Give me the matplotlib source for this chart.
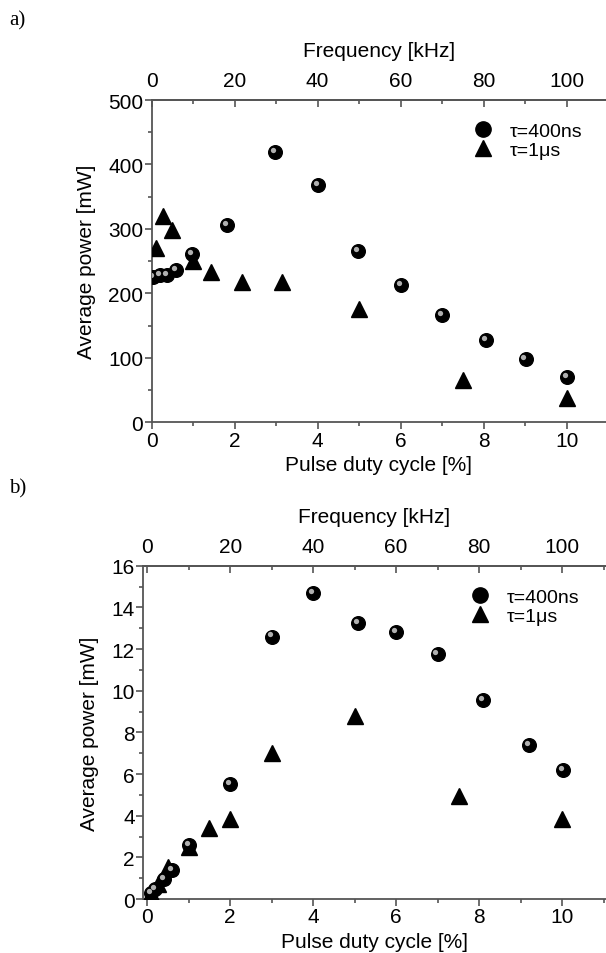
#!/usr/bin/env python3
"""
Average power vs pulse duty cycle, two panels
"""
import matplotlib
matplotlib.use("Agg")
import matplotlib.pyplot as plt
from matplotlib.lines import Line2D
from matplotlib.ticker import MultipleLocator
from matplotlib.transforms import offset_copy

plt.rcParams['font.family'] = ['Liberation Sans', 'DejaVu Sans']

# panel a) values
a_duty_400 = [0.04, 0.2, 0.38, 0.58, 0.98, 1.82, 2.97, 4.0, 4.98, 6.0, 6.99, 8.05, 9.01, 10.0]
a_power_400 = [226, 228, 228, 236, 261, 306, 420, 368, 266, 213, 167, 128, 98, 70]
a_duty_1us = [0.1, 0.28, 0.49, 1.0, 1.43, 2.18, 3.14, 4.99, 7.51, 10.0]
a_power_1us = [270, 320, 299, 250, 233, 217, 217, 176, 66, 38]

# panel b)
b_duty_400 = [0.1, 0.2, 0.4, 0.6, 1.0, 2.0, 3.0, 3.99, 5.09, 5.99, 7.0, 8.1, 9.2, 10.03]
b_power_400 = [0.3, 0.5, 0.95, 1.4, 2.6, 5.5, 12.6, 14.7, 13.25, 12.8, 11.75, 9.55, 7.4, 6.2]
b_duty_1us = [0.1, 0.25, 0.5, 1.0, 1.5, 2.0, 3.0, 5.0, 7.51, 10.0]
b_power_1us = [0.3, 0.7, 1.55, 2.5, 3.4, 3.85, 7.0, 8.8, 4.93, 3.84]

SPINE = '#555555'


def spheres(ax, x, y, fig):
    # black ball with a small light spot upper left
    ax.plot(x, y, 'o', color='black', markersize=9.8, zorder=3)
    hl = offset_copy(ax.transData, fig=fig, x=-1.5, y=1.5, units='points')
    ax.plot(x, y, 'o', color='#d0d0d0', markersize=3.8, markeredgewidth=0,
            alpha=0.85, transform=hl, zorder=4)


def style_panel(ax, fig, xlim, ylim, ymajor, yminor, legend_anchor):
    ax.set_xlim(*xlim)
    ax.set_ylim(*ylim)
    ax.xaxis.set_major_locator(MultipleLocator(2))
    ax.xaxis.set_minor_locator(MultipleLocator(1))
    ax.yaxis.set_major_locator(MultipleLocator(ymajor))
    ax.yaxis.set_minor_locator(MultipleLocator(yminor))
    ax.tick_params(which='major', direction='out', length=5, width=1.2,
                   color=SPINE, labelsize=15, pad=1)
    ax.tick_params(which='minor', direction='out', length=3, width=1.2, color=SPINE)
    for side in ['left', 'bottom', 'top']:
        ax.spines[side].set_color(SPINE)
        ax.spines[side].set_linewidth(1.3)
    ax.spines['right'].set_visible(False)
    ax.set_xlabel('Pulse duty cycle [%]', fontsize=15, labelpad=4)
    ax.set_ylabel('Average power [mW]', fontsize=15, labelpad=9)

    top = ax.twiny()
    top.set_xlim(xlim[0] * 10, xlim[1] * 10)
    top.xaxis.set_major_locator(MultipleLocator(20))
    top.xaxis.set_minor_locator(MultipleLocator(10))
    top.tick_params(which='major', direction='in', length=5, width=1.2,
                    color=SPINE, labelsize=15, pad=7)
    top.tick_params(which='minor', direction='in', length=3, width=1.2, color=SPINE)
    for side in ['left', 'bottom', 'right']:
        top.spines[side].set_visible(False)
    top.spines['top'].set_color(SPINE)
    top.spines['top'].set_linewidth(1.3)
    top.set_xlabel('Frequency [kHz]', fontsize=15, labelpad=11)

    handles = [
        Line2D([], [], marker='o', color='black', linestyle='none', markersize=11),
        Line2D([], [], marker='^', color='black', linestyle='none', markersize=11),
    ]
    ax.legend(handles, ['\u03c4=400ns', '\u03c4=1\u03bcs'], loc='upper left',
              bbox_to_anchor=legend_anchor, frameon=False, fontsize=14,
              handlelength=1.0, handletextpad=0.9, labelspacing=0.05,
              borderaxespad=0)


fig = plt.figure(figsize=(6.06, 9.54), dpi=100)

ax_a = fig.add_axes([0.2503, 0.5563, 0.7497, 0.3378])
spheres(ax_a, a_duty_400, a_power_400, fig)
ax_a.plot(a_duty_1us, a_power_1us, '^', color='black', markersize=11, zorder=3)
style_panel(ax_a, fig, (0, 10.95), (0, 500), 100, 50, (0.69, 0.955))

ax_b = fig.add_axes([0.236, 0.0566, 0.764, 0.3494])
spheres(ax_b, b_duty_400, b_power_400, fig)
ax_b.plot(b_duty_1us, b_power_1us, '^', color='black', markersize=11, zorder=3)
style_panel(ax_b, fig, (-0.1, 11.06), (0, 16), 2, 1, (0.69, 0.955))

fig.text(0.015, 0.988, 'a)', fontsize=15, family='Liberation Serif', va='top')
fig.text(0.015, 0.498, 'b)', fontsize=15, family='Liberation Serif', va='top')

plt.savefig('out.png', dpi=100)
plt.close()
